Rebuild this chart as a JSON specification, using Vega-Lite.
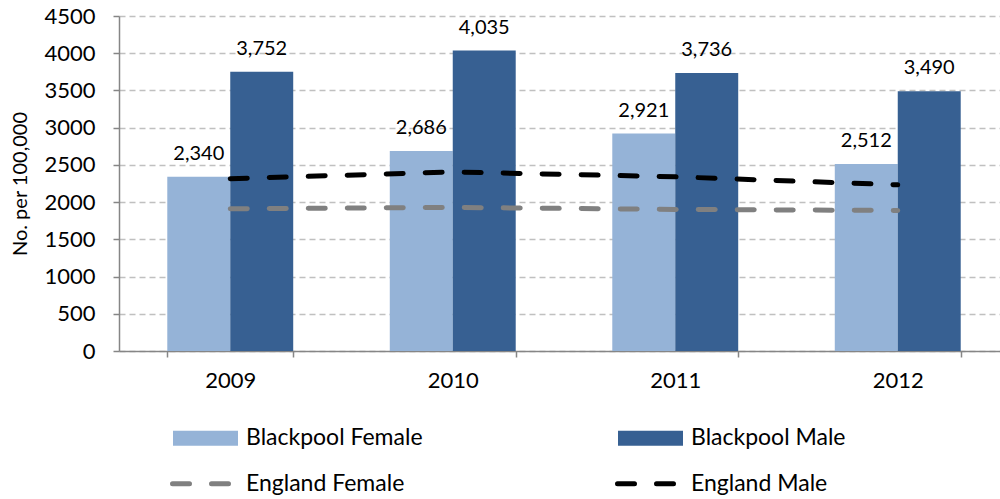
{
  "$schema": "https://vega.github.io/schema/vega-lite/v6.json",
  "width": 890,
  "height": 335,
  "autosize": "none",
  "padding": {"left": 119, "top": 16, "right": -9, "bottom": 148},
  "background": "white",
  "config": {
    "view": {"stroke": null},
    "font": "Lato",
    "text": {"font": "Lato"}
  },
  "datasets": {
    "bars": [
      {"year": "2009", "series": "Blackpool Female", "value": 2340},
      {"year": "2009", "series": "Blackpool Male", "value": 3752},
      {"year": "2010", "series": "Blackpool Female", "value": 2686},
      {"year": "2010", "series": "Blackpool Male", "value": 4035},
      {"year": "2011", "series": "Blackpool Female", "value": 2921},
      {"year": "2011", "series": "Blackpool Male", "value": 3736},
      {"year": "2012", "series": "Blackpool Female", "value": 2512},
      {"year": "2012", "series": "Blackpool Male", "value": 3490}
    ],
    "lines": [
      {"year": "2009", "series": "England Female", "value": 1911},
      {"year": "2010", "series": "England Female", "value": 1929},
      {"year": "2011", "series": "England Female", "value": 1902},
      {"year": "2012", "series": "England Female", "value": 1888},
      {"year": "2009", "series": "England Male", "value": 2315},
      {"year": "2010", "series": "England Male", "value": 2405},
      {"year": "2011", "series": "England Male", "value": 2340},
      {"year": "2012", "series": "England Male", "value": 2232}
    ]
  },
  "layer": [
    {
      "data": {"name": "bars"},
      "mark": {"type": "bar"},
      "encoding": {
        "x": {
          "field": "year", "type": "nominal",
          "scale": {"paddingInner": 0.434, "paddingOuter": 0.217},
          "axis": {
            "title": null, "labelAngle": 0, "labelFontSize": 22, "labelColor": "black",
            "labelPadding": 13, "domainColor": "#868686", "domainWidth": 1.5,
            "tickBand": "extent", "tickColor": "#868686", "tickSize": 6, "tickWidth": 1.5,
            "grid": false
          }
        },
        "xOffset": {
          "field": "series", "type": "nominal",
          "scale": {"domain": ["Blackpool Female", "Blackpool Male"], "paddingInner": 0, "paddingOuter": 0}
        },
        "y": {
          "field": "value", "type": "quantitative",
          "scale": {"domain": [0, 4500], "nice": false},
          "axis": {
            "title": "No. per 100,000", "titleFontSize": 20, "titleFontWeight": "normal",
            "titleColor": "black", "titlePadding": 13,
            "values": [0, 500, 1000, 1500, 2000, 2500, 3000, 3500, 4000, 4500],
            "labelOverlap": false, "labelFlush": false,
            "format": "d", "labelFontSize": 22, "labelColor": "black", "labelPadding": 18,
            "tickSize": 6, "tickColor": "#868686", "tickWidth": 1.5,
            "domainColor": "#868686", "domainWidth": 1.5,
            "grid": true, "gridDash": [6, 4], "gridColor": "#C0C0C0", "gridWidth": 1.5
          }
        },
        "fill": {
          "field": "series", "type": "nominal",
          "scale": {"domain": ["Blackpool Female", "Blackpool Male"], "range": ["#95B3D7", "#376092"]},
          "legend": {
            "orient": "none", "legendX": 54, "legendY": 389.5, "direction": "horizontal",
            "columns": 2, "columnPadding": 195, "title": null, "padding": 0,
            "labelFontSize": 23, "labelColor": "black", "labelOffset": 8, "labelLimit": 400,
            "symbolType": "M-1,-0.23H1V0.23H-1Z", "symbolSize": 4225, "symbolStrokeWidth": 0
          }
        }
      }
    },
    {
      "data": {"name": "lines"},
      "mark": {"type": "line", "strokeDash": [17, 22], "strokeWidth": 5, "strokeCap": "round"},
      "encoding": {
        "x": {"field": "year", "type": "nominal"},
        "y": {
          "field": "value", "type": "quantitative",
          "axis": {
            "title": "No. per 100,000", "titleFontSize": 20, "titleFontWeight": "normal",
            "titleColor": "black", "titlePadding": 13,
            "values": [0, 500, 1000, 1500, 2000, 2500, 3000, 3500, 4000, 4500],
            "labelOverlap": false, "labelFlush": false,
            "format": "d", "labelFontSize": 22, "labelColor": "black", "labelPadding": 18,
            "tickSize": 6, "tickColor": "#868686", "tickWidth": 1.5,
            "domainColor": "#868686", "domainWidth": 1.5,
            "grid": true, "gridDash": [6, 4], "gridColor": "#C0C0C0", "gridWidth": 1.5
          }
        },
        "stroke": {
          "field": "series", "type": "nominal",
          "scale": {"domain": ["England Female", "England Male"], "range": ["#808080", "#000000"]},
          "legend": {
            "orient": "none", "legendX": 51, "legendY": 437, "direction": "horizontal",
            "columns": 2, "columnPadding": 202, "title": null, "padding": 0,
            "labelFontSize": 23, "labelColor": "black", "labelOffset": 15, "labelLimit": 400,
            "symbolType": "stroke", "symbolSize": 3136, "symbolStrokeWidth": 5,
            "symbolDash": [17, 22],
            "encode": {"symbols": {"update": {"strokeCap": {"value": "round"}}}}
          }
        }
      }
    },
    {
      "data": {"name": "bars"},
      "mark": {"type": "text", "baseline": "alphabetic", "dy": -17, "fontSize": 20, "color": "black"},
      "encoding": {
        "x": {"field": "year", "type": "nominal"},
        "xOffset": {"field": "series", "type": "nominal"},
        "y": {
          "field": "value", "type": "quantitative",
          "axis": {
            "title": "No. per 100,000", "titleFontSize": 20, "titleFontWeight": "normal",
            "titleColor": "black", "titlePadding": 13,
            "values": [0, 500, 1000, 1500, 2000, 2500, 3000, 3500, 4000, 4500],
            "labelOverlap": false, "labelFlush": false,
            "format": "d", "labelFontSize": 22, "labelColor": "black", "labelPadding": 18,
            "tickSize": 6, "tickColor": "#868686", "tickWidth": 1.5,
            "domainColor": "#868686", "domainWidth": 1.5,
            "grid": true, "gridDash": [6, 4], "gridColor": "#C0C0C0", "gridWidth": 1.5
          }
        },
        "text": {"field": "value", "type": "quantitative", "format": ","}
      }
    }
  ]
}
